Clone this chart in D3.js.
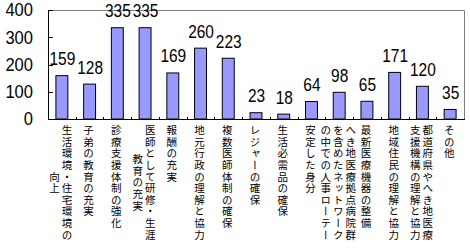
<!DOCTYPE html>
<html lang="ja">
<head>
<meta charset="utf-8">
<style>
  body { margin: 0; background: #fff; }
  svg { display: block; }
</style>
</head>
<body>
<svg width="470" height="249"></svg>
<script src="https://cdn.jsdelivr.net/npm/d3@7"></script>
<script>
// data
const categories = [
  "生活環境・住宅環境の向上",
  "子弟の教育の充実",
  "診療支援体制の強化",
  "医師として研修・生涯教育の充実",
  "報酬の充実",
  "地元行政の理解と協力",
  "複数医師体制の確保",
  "レジャーの確保",
  "生活必需品の確保",
  "安定した身分",
  "へき地医療拠点病院群を含めたネットワークの中での人事ローテー",
  "最新医療機器の整備",
  "地域住民の理解と協力",
  "都道府県やへき地医療支援機構の理解と協力",
  "その他"
]
const values = [159, 128, 335, 335, 169, 260, 223, 23, 18, 64, 98, 65, 171, 120, 35]
const yTicks = [0, 100, 200, 300, 400]

const margin = {top: 10, bottom: 130, left: 48, right: 6},
      width = 470,
      height = 249,
      svg = d3.select("svg")

const numFont = "'Liberation Sans', Arial, sans-serif",
      squeeze = 0.86   // digits in the original are narrower than Arial

const x = d3.scaleBand().domain(d3.range(categories.length))
            .range([margin.left, width - margin.right])
            .paddingInner(0.57).paddingOuter(0.285)
const y = d3.scaleLinear().domain([0, 400]).range([height - margin.bottom, margin.top])

const x0 = margin.left, x1 = width - margin.right,
      yb = y(0), yt = y(400)

// gray frame top/right
svg.append("path")
  .attr("d", `M${x0},${yt + 0.5}H${x1 + 0.5}V${yb}`)
  .attr("fill", "none").attr("stroke", "#808080")

// bars
svg.selectAll("rect.bar").data(values).enter()
  .append("rect")
    .attr("x", (d, i) => x(i))
    .attr("y", d => y(d))
    .attr("width", x.bandwidth())
    .attr("height", d => y(0) - y(d))
    .attr("fill", "#9999ff")
    .attr("stroke", "#000")
    .attr("stroke-width", 1)

// value labels
svg.selectAll("text.val").data(values).enter()
  .append("text")
    .text(d => d)
    .attr("transform", (d, i) => `translate(${x(i) + x.bandwidth() / 2 + 0.5},${y(d) - 10.5}) scale(${squeeze},1)`)
    .attr("text-anchor", "middle")
    .style("font-family", numFont)
    .style("font-size", "18px")
    .style("fill", "#000")

// y axis
svg.append("line").attr("x1", x0 + 0.5).attr("x2", x0 + 0.5).attr("y1", yt).attr("y2", yb + 0.5)
  .attr("stroke", "#000")
svg.selectAll("line.yt").data(yTicks).enter()
  .append("line")
    .attr("x1", x0).attr("x2", x0 + 5)
    .attr("y1", d => Math.round(y(d)) + 0.5).attr("y2", d => Math.round(y(d)) + 0.5)
    .attr("stroke", "#000")
svg.selectAll("text.yl").data(yTicks).enter()
  .append("text")
    .text(d => d)
    .attr("transform", d => `translate(33,${y(d)}) scale(${squeeze + 0.06},1)`)
    .attr("dy", "0.36em")
    .attr("text-anchor", "end")
    .style("font-family", numFont)
    .style("font-size", "18px")
    .style("fill", "#000")

// x axis
svg.append("line").attr("x1", x0).attr("x2", x1 + 1).attr("y1", yb + 0.5).attr("y2", yb + 0.5)
  .attr("stroke", "#000")
svg.selectAll("line.xt").data(d3.range(1, categories.length)).enter()
  .append("line")
    .attr("x1", i => Math.round(x(i) - x.step() * x.paddingInner() / 2) + 0.5)
    .attr("x2", i => Math.round(x(i) - x.step() * x.paddingInner() / 2) + 0.5)
    .attr("y1", yb - 2).attr("y2", yb)
    .attr("stroke", "#000")

// category labels, vertical, wrapped every 10 chars, columns right to left
const perCol = 10, fs = 10.5, ls = 1.1, step = fs + ls, colGap = 12.5, labelTop = 124.5
categories.forEach((c, i) => {
  const cols = []
  const chars = Array.from(c)
  for (let k = 0; k < chars.length; k += perCol) cols.push(chars.slice(k, k + perCol).join(""))
  const maxLen = d3.max(cols, s => Array.from(s).length)
  const cx = x(i) + x.bandwidth() / 2 - 1
  cols.forEach((s, j) => {
    const colX = cx + ((cols.length - 1) / 2 - j) * colGap
    svg.append("text")
      .text(s)
      .attr("x", colX)
      .attr("y", labelTop + maxLen * step / 2 + ls / 2)
      .attr("text-anchor", "middle")
      .style("writing-mode", "vertical-rl")
      .style("letter-spacing", ls + "px")
      .style("font-family", "'Noto Sans CJK JP', sans-serif")
      .style("font-size", fs + "px")
      .style("fill", "#000")
  })
})
</script>
</body>
</html>
